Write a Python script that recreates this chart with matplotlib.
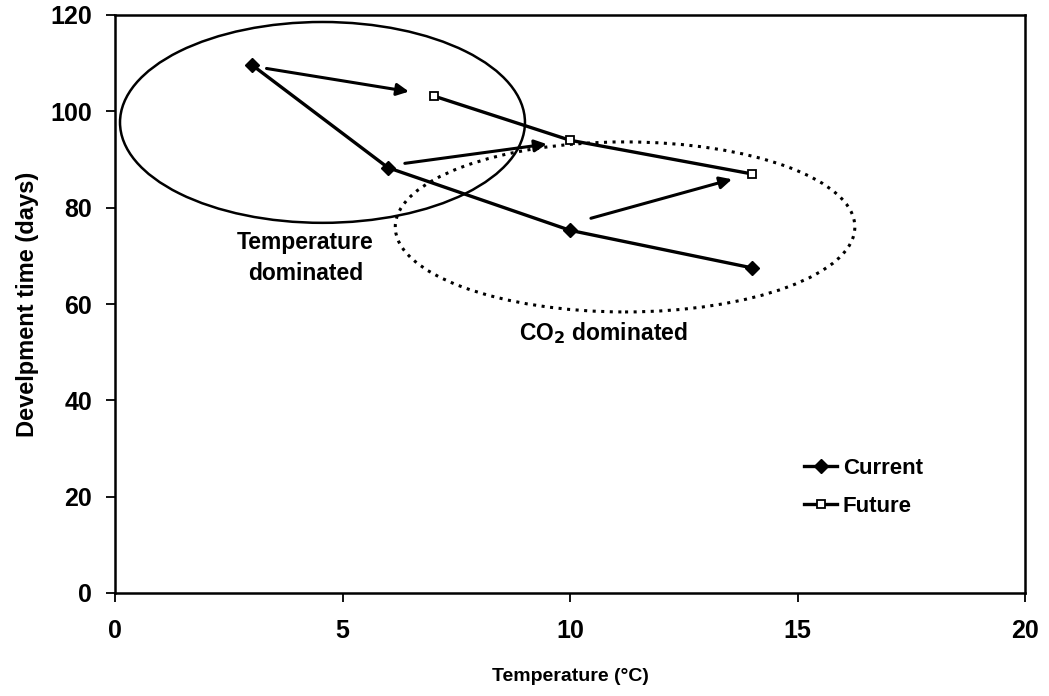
import matplotlib.pyplot as plt
from matplotlib.patches import Ellipse

plt.rcParams['font.family'] = ['Liberation Sans', 'DejaVu Sans']

# data
temp_current = [3, 6, 10, 14]
dev_current = [109.7, 88.3, 75.3, 67.5]
temp_future = [7, 10, 14]
dev_future = [103.2, 94.0, 87.0]

# shift arrows (start -> end)
arrow_start = [(3.33, 108.9), (6.37, 89.2), (10.46, 77.8)]
arrow_end = [(6.46, 104.1), (9.49, 93.2), (13.56, 85.9)]

fig = plt.figure(figsize=(10.49, 6.96), dpi=100)
ax = fig.add_axes([115 / 1049, 103 / 696, 910 / 1049, 578 / 696])

ax.plot(temp_current, dev_current, color='black', lw=2.4, marker='D',
        markersize=7, markerfacecolor='black', label='Current')
ax.plot(temp_future, dev_future, color='black', lw=2.4, marker='s',
        markersize=6, markerfacecolor='white', markeredgewidth=1.3, label='Future')

for (x0, y0), (x1, y1) in zip(arrow_start, arrow_end):
    ax.annotate('', xy=(x1, y1), xytext=(x0, y0),
                arrowprops=dict(arrowstyle='-|>', color='black', lw=2.2,
                                mutation_scale=18, shrinkA=0, shrinkB=0))

ax.add_patch(Ellipse((4.56, 97.7), 8.9, 41.7, fill=False, ec='black', lw=1.8))
ax.add_patch(Ellipse((11.21, 76.0), 10.1, 35.3, fill=False, ec='black', lw=2.2,
                     linestyle=(0, (1, 1.8))))

ax.text(4.18, 69.5, 'Temperature\ndominated', ha='center', va='center',
        fontsize=16.5, fontweight='bold', linespacing=1.45)
ax.text(10.73, 54.0, 'CO$_\\mathbf{2}$ dominated', ha='center', va='center',
        fontsize=16.5, fontweight='bold')

ax.set_xlim(0, 20)
ax.set_ylim(0, 120)
ax.set_xticks([0, 5, 10, 15, 20])
ax.set_yticks([0, 20, 40, 60, 80, 100, 120])
ax.tick_params(direction='out', length=6.5, width=1.3, labelsize=18)
ax.tick_params(axis='x', pad=12)
ax.tick_params(axis='y', pad=10)
for lab in ax.get_xticklabels() + ax.get_yticklabels():
    lab.set_fontweight('bold')
for s in ax.spines.values():
    s.set_linewidth(1.8)

ax.set_xlabel('Temperature (°C)', fontsize=14, fontweight='bold', labelpad=18)
ax.set_ylabel('Develpment time (days)', fontsize=17, fontweight='bold', labelpad=8)

ax.legend(loc='center left', bbox_to_anchor=(0.745, 0.183), frameon=False,
          borderpad=0, handlelength=1.5, handletextpad=0.25, labelspacing=0.75,
          prop={'size': 16, 'weight': 'bold'})

fig.savefig('out.png', dpi=100)
